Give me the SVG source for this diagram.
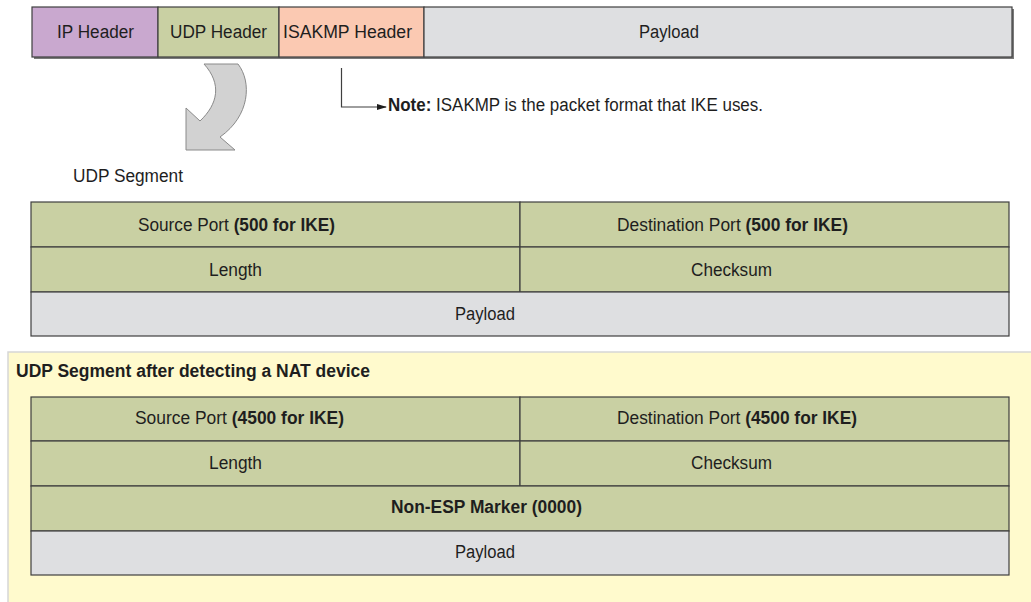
<svg xmlns="http://www.w3.org/2000/svg" width="1031" height="602" viewBox="0 0 1031 602">
<defs>
<style>
text{font-family:"Liberation Sans",Arial,sans-serif;font-size:18px;fill:#1e1e1e}
.b{font-weight:bold}
.c{text-anchor:middle}
.cell{stroke:#3f3f3f;stroke-width:1.2}
.g{fill:#c9d0a3}
.p{fill:#dedfe1}
.ln{stroke:#3f3f3f;stroke-width:1.2;fill:none}
</style>
<marker id="ah" markerWidth="10" markerHeight="8" refX="9" refY="4" orient="auto" markerUnits="userSpaceOnUse">
<path d="M0,1 L10,4 L0,7 Z" fill="#1e1e1e"/>
</marker>
</defs>
<rect width="1031" height="602" fill="#ffffff"/>

<g id="packet">
<rect x="34" y="9" width="980" height="50" fill="#7a7a7a"/>
<rect class="cell" x="32" y="7" width="126" height="50" fill="#c9a8cf"/>
<rect class="cell g" x="158" y="7" width="121" height="50"/>
<rect class="cell" x="279" y="7" width="145" height="50" fill="#fbc9b2"/>
<rect class="cell p" x="424" y="7" width="588" height="50"/>
<text class="c" x="95.5" y="38" textLength="77" lengthAdjust="spacingAndGlyphs">IP Header</text>
<text class="c" x="218.5" y="38" textLength="97" lengthAdjust="spacingAndGlyphs">UDP Header</text>
<text class="c" x="347.5" y="38" textLength="129" lengthAdjust="spacingAndGlyphs">ISAKMP Header</text>
<text class="c" x="669" y="38" textLength="60" lengthAdjust="spacingAndGlyphs">Payload</text>
</g>

<g id="udp-arrow">
<path d="M204,64 L238,64 C252,82 250,116 220,137 L235,150 L186,150 L186,108 L200,121 C218,104 222,84 204,64 Z" fill="#d2d2d2" stroke="#8a8a8a" stroke-width="1"/>
</g>

<g id="connectors">
<path class="ln" d="M341.5,68 V107 H386" stroke="#1e1e1e" marker-end="url(#ah)"/>
</g>

<g id="note">
<text x="388" y="111" textLength="375" lengthAdjust="spacingAndGlyphs"><tspan class="b">Note:</tspan> ISAKMP is the packet format that IKE uses.</text>
</g>

<g id="udp-label">
<text x="73" y="182" textLength="110" lengthAdjust="spacingAndGlyphs">UDP Segment</text>
</g>

<g id="udp-segment">
<rect class="cell g" x="31" y="202" width="489" height="45"/>
<rect class="cell g" x="520" y="202" width="489" height="45"/>
<rect class="cell g" x="31" y="247" width="489" height="45"/>
<rect class="cell g" x="520" y="247" width="489" height="45"/>
<rect class="cell p" x="31" y="292" width="978" height="44"/>
<text class="c" x="236.5" y="230.5" textLength="197" lengthAdjust="spacingAndGlyphs">Source Port <tspan class="b">(500 for IKE)</tspan></text>
<text class="c" x="732.5" y="230.5" textLength="231" lengthAdjust="spacingAndGlyphs">Destination Port <tspan class="b">(500 for IKE)</tspan></text>
<text class="c" x="235.5" y="275.5" textLength="53" lengthAdjust="spacingAndGlyphs">Length</text>
<text class="c" x="731.5" y="275.5" textLength="81" lengthAdjust="spacingAndGlyphs">Checksum</text>
<text class="c" x="485" y="320" textLength="60" lengthAdjust="spacingAndGlyphs">Payload</text>
</g>

<g id="nat-segment">
<rect x="8" y="352" width="1030" height="260" fill="#fffacd" stroke="#d6d6d6" stroke-width="1.5"/>
<text class="b" x="16" y="377" textLength="354" lengthAdjust="spacingAndGlyphs">UDP Segment after detecting a NAT device</text>
<rect class="cell g" x="31" y="397" width="489" height="44"/>
<rect class="cell g" x="520" y="397" width="489" height="44"/>
<rect class="cell g" x="31" y="441" width="489" height="45"/>
<rect class="cell g" x="520" y="441" width="489" height="45"/>
<rect class="cell g" x="31" y="486" width="978" height="45"/>
<rect class="cell p" x="31" y="531" width="978" height="44"/>
<text class="c" x="239.5" y="424" textLength="209" lengthAdjust="spacingAndGlyphs">Source Port <tspan class="b">(4500 for IKE)</tspan></text>
<text class="c" x="737" y="424" textLength="240" lengthAdjust="spacingAndGlyphs">Destination Port <tspan class="b">(4500 for IKE)</tspan></text>
<text class="c" x="235.5" y="468.5" textLength="53" lengthAdjust="spacingAndGlyphs">Length</text>
<text class="c" x="731.5" y="468.5" textLength="81" lengthAdjust="spacingAndGlyphs">Checksum</text>
<text class="c b" x="486.5" y="513" textLength="191" lengthAdjust="spacingAndGlyphs">Non-ESP Marker (0000)</text>
<text class="c" x="485" y="558" textLength="60" lengthAdjust="spacingAndGlyphs">Payload</text>
</g>
</svg>
